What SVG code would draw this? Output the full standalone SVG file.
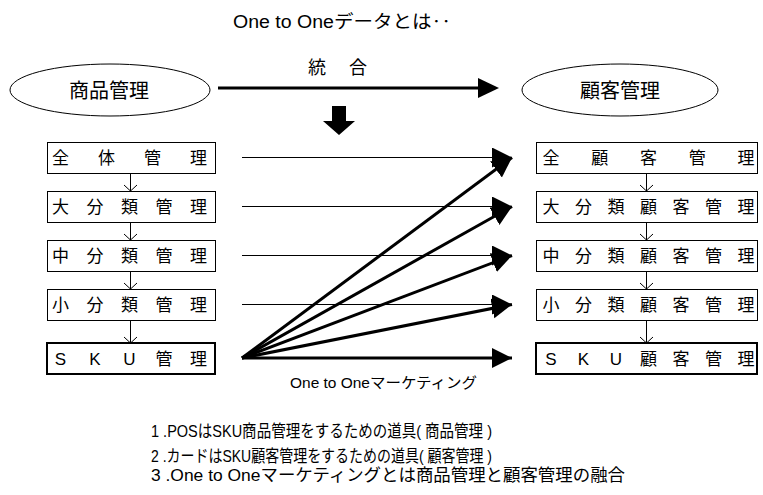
<svg xmlns="http://www.w3.org/2000/svg" width="763" height="495" viewBox="0 0 763 495">
<style>
text { font-family: "Liberation Sans", "Noto Sans CJK JP", sans-serif; fill: #000; }
.box { fill: #fff; stroke: #000; stroke-width: 1; }
.sku { fill: #fff; stroke: #000; stroke-width: 2; }
.ell { fill: #fff; stroke: #000; stroke-width: 1; }
.bt { font-size: 17px; text-anchor: middle; }
.thin { stroke: #000; stroke-width: 1; fill: none; }
.thick { stroke: #000; stroke-width: 3; fill: none; }
.small { stroke: #000; stroke-width: 1; fill: none; }
</style>
<defs>
<marker id="ah" markerUnits="userSpaceOnUse" markerWidth="22" markerHeight="22" refX="20" refY="10" orient="auto" viewBox="0 0 22 22">
<path d="M0,0 L20,10 L0,20 Z" fill="#000"/>
</marker>
</defs>

<text x="233" y="28" font-size="18" textLength="218" lengthAdjust="spacingAndGlyphs">One to Oneデータとは‥</text>

<g id="node-shohin">
<ellipse class="ell" cx="110" cy="90" rx="100" ry="26"/>
<text x="109" y="98" font-size="20" text-anchor="middle">商品管理</text>
</g>
<g id="node-kokyaku">
<ellipse class="ell" cx="620" cy="90" rx="98" ry="26"/>
<text x="620" y="98" font-size="20" text-anchor="middle">顧客管理</text>
</g>

<g id="node-l1"><rect class="box" x="47.5" y="142.5" width="168" height="31"/><text class="bt" x="60.5 106.5 152.5 198.5" y="164">全体管理</text></g>
<g id="node-l2"><rect class="box" x="47.5" y="191.5" width="168" height="31"/><text class="bt" x="60.5 95 129.5 164 198.5" y="213">大分類管理</text></g>
<g id="node-l3"><rect class="box" x="47.5" y="240.5" width="168" height="31"/><text class="bt" x="60.5 95 129.5 164 198.5" y="262">中分類管理</text></g>
<g id="node-l4"><rect class="box" x="47.5" y="289.5" width="168" height="31"/><text class="bt" x="60.5 95 129.5 164 198.5" y="311">小分類管理</text></g>
<g id="node-l5"><rect class="sku" x="47" y="343" width="168" height="31"/><text class="bt" x="60.5 95 129.5 164 198.5" y="365">SKU管理</text></g>

<g id="node-r1"><rect class="box" x="536.5" y="142.5" width="221" height="31"/><text class="bt" x="551 599.75 648.5 697.25 746" y="164">全顧客管理</text></g>
<g id="node-r2"><rect class="box" x="536.5" y="191.5" width="221" height="31"/><text class="bt" x="551 583.5 616 648.5 681 713.5 746" y="213">大分類顧客管理</text></g>
<g id="node-r3"><rect class="box" x="536.5" y="240.5" width="221" height="31"/><text class="bt" x="551 583.5 616 648.5 681 713.5 746" y="262">中分類顧客管理</text></g>
<g id="node-r4"><rect class="box" x="536.5" y="289.5" width="221" height="31"/><text class="bt" x="551 583.5 616 648.5 681 713.5 746" y="311">小分類顧客管理</text></g>
<g id="node-r5"><rect class="sku" x="536" y="343" width="221" height="31"/><text class="bt" x="551 583.5 616 648.5 681 713.5 746" y="365">SKU顧客管理</text></g>

<g id="connectors">
<line class="thick" x1="218" y1="88" x2="480" y2="88"/>
<polygon points="478,78 499,88 478,98" fill="#000"/>
<text x="308 349" y="74" font-size="18">統合</text>
<polygon points="332,106 346,106 346,121 355,121 339,135 323,121 332,121" fill="#000"/>

<path class="small" d="M130.5,173.5 V191 M124,185 L130.5,191 L137,185"/>
<path class="small" d="M130.5,222.5 V240 M124,234 L130.5,240 L137,234"/>
<path class="small" d="M130.5,271.5 V289 M124,283 L130.5,289 L137,283"/>
<path class="small" d="M130.5,320.5 V343 M124,337 L130.5,343 L137,337"/>

<path class="small" d="M646.5,173.5 V191 M640,185 L646.5,191 L653,185"/>
<path class="small" d="M646.5,222.5 V240 M640,234 L646.5,240 L653,234"/>
<path class="small" d="M646.5,271.5 V289 M640,283 L646.5,289 L653,283"/>
<path class="small" d="M646.5,320.5 V343 M640,337 L646.5,343 L653,337"/>

<line class="thin" x1="242" y1="157.5" x2="512" y2="157.5" marker-end="url(#ah)"/>
<line class="thin" x1="242" y1="206.5" x2="512" y2="206.5" marker-end="url(#ah)"/>
<line class="thin" x1="242" y1="255.5" x2="512" y2="255.5" marker-end="url(#ah)"/>
<line class="thin" x1="242" y1="304.5" x2="512" y2="304.5" marker-end="url(#ah)"/>

<line class="thick" x1="242" y1="358" x2="512" y2="157.5" marker-end="url(#ah)"/>
<line class="thick" x1="242" y1="358" x2="512" y2="206.5" marker-end="url(#ah)"/>
<line class="thick" x1="242" y1="358" x2="512" y2="255.5" marker-end="url(#ah)"/>
<line class="thick" x1="242" y1="358" x2="512" y2="304.5" marker-end="url(#ah)"/>
<line class="thick" x1="242" y1="358" x2="512" y2="358" marker-end="url(#ah)"/>
<text x="290" y="388" font-size="15" textLength="187" lengthAdjust="spacingAndGlyphs">One to Oneマーケティング</text>
</g>

<text x="151" y="437" font-size="17" textLength="341" lengthAdjust="spacingAndGlyphs">1 .POSはSKU商品管理をするための道具( 商品管理 )</text>
<text x="151" y="462" font-size="17" textLength="341" lengthAdjust="spacingAndGlyphs">2 .カードはSKU顧客管理をするための道具( 顧客管理 )</text>
<text x="151" y="481" font-size="17" textLength="474" lengthAdjust="spacingAndGlyphs">3 .One to Oneマーケティングとは商品管理と顧客管理の融合</text>
</svg>
